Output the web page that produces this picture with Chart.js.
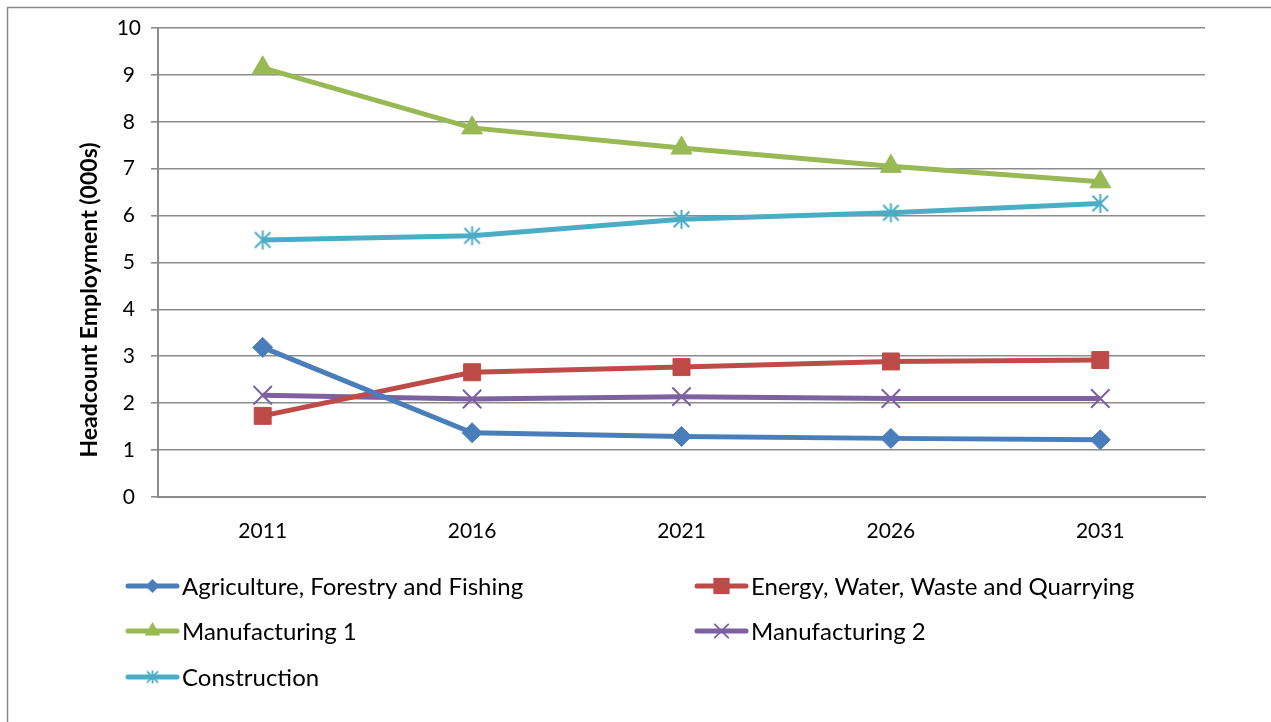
<!DOCTYPE html>
<html>
<head>
<meta charset="utf-8">
<script src="https://cdn.jsdelivr.net/npm/chart.js@4/dist/chart.umd.min.js"></script>
<style>
  html, body { margin: 0; padding: 0; background: #ffffff; }
  #wrap { position: relative; width: 1271px; height: 722px; }
</style>
</head>
<body>
<div id="wrap"><canvas id="chart" width="1271" height="722"></canvas></div>
<script>
// Headcount employment by sector (thousands)
const years = ['2011', '2016', '2021', '2026', '2031'];
const agriculture = [3.19, 1.37, 1.29, 1.25, 1.22];
const energy = [1.73, 2.66, 2.77, 2.89, 2.92];
const manufacturing1 = [9.15, 7.87, 7.44, 7.05, 6.72];
const manufacturing2 = [2.17, 2.09, 2.14, 2.10, 2.10];
const construction = [5.48, 5.57, 5.92, 6.06, 6.26];
const seriesNames = [
  'Agriculture, Forestry and Fishing',
  'Energy, Water, Waste and Quarrying',
  'Manufacturing 1',
  'Manufacturing 2',
  'Construction'
];
const yTicks = [0, 1, 2, 3, 4, 5, 6, 7, 8, 9, 10];

const FONT = "Lato, 'Open Sans', 'DejaVu Sans', sans-serif";
const GRID = '#8c8c8c';
const colors = ['#4a7ebb', '#be4b48', '#98b954', '#7d60a0', '#4bacc6'];

// asterisk marker: vertical bar plus diagonal cross
function asterisk(size, color, lw) {
  const c = document.createElement('canvas');
  c.width = size; c.height = size;
  const g = c.getContext('2d');
  g.strokeStyle = color; g.lineWidth = lw; g.lineCap = 'butt';
  const m = size / 2, p = 1, d = size * 0.37;
  g.beginPath();
  g.moveTo(m, p); g.lineTo(m, size - p);
  g.moveTo(m - d, m - d); g.lineTo(m + d, m + d);
  g.moveTo(m + d, m - d); g.lineTo(m - d, m + d);
  g.stroke();
  return c;
}
const starBig = asterisk(21, colors[4], 2);
const starSmall = asterisk(15, colors[4], 1.7);

const styles = [
  { pointStyle: 'rectRot', pointRadius: 10, legendRadius: 7 },
  { pointStyle: 'rect', pointRadius: 12, legendRadius: 11.5 },
  { pointStyle: 'triangle', pointRadius: 12, legendRadius: 9 },
  { pointStyle: 'crossRot', pointRadius: 13, legendRadius: 9.5 },
  { pointStyle: starBig, pointRadius: 10, legendRadius: 7 }
];

const values = [agriculture, energy, manufacturing1, manufacturing2, construction];
const datasets = values.map((v, i) => ({
  label: seriesNames[i],
  data: v,
  borderColor: colors[i],
  backgroundColor: colors[i],
  borderWidth: 5,
  pointStyle: styles[i].pointStyle,
  pointRadius: styles[i].pointRadius,
  pointHoverRadius: styles[i].pointRadius,
  pointBackgroundColor: colors[i],
  pointBorderColor: colors[i],
  pointBorderWidth: i === 3 ? 2 : 1,
  tension: 0,
  fill: false
}));

function drawMarker(ctx, style, x, y, r, color) {
  ctx.save();
  ctx.fillStyle = color; ctx.strokeStyle = color;
  ctx.beginPath();
  if (style === 'rectRot') {
    ctx.moveTo(x, y - r); ctx.lineTo(x + r, y); ctx.lineTo(x, y + r); ctx.lineTo(x - r, y);
    ctx.closePath(); ctx.fill();
  } else if (style === 'rect') {
    const s = r * Math.SQRT1_2;
    ctx.rect(x - s, y - s, 2 * s, 2 * s); ctx.fill();
  } else if (style === 'triangle') {
    const w = r * Math.sqrt(3) / 2;
    ctx.moveTo(x, y - r); ctx.lineTo(x + w, y + r / 2); ctx.lineTo(x - w, y + r / 2);
    ctx.closePath(); ctx.fill();
  } else if (style === 'crossRot') {
    const d = r * Math.SQRT1_2;
    ctx.lineWidth = 1.8;
    ctx.moveTo(x - d, y - d); ctx.lineTo(x + d, y + d);
    ctx.moveTo(x + d, y - d); ctx.lineTo(x - d, y + d);
    ctx.stroke();
  } else {
    ctx.drawImage(starSmall, x - starSmall.width / 2, y - starSmall.height / 2);
  }
  ctx.restore();
}

// frame, vertical axis title and the two-column legend
const decor = {
  id: 'decor',
  beforeDraw(chart) {
    const ctx = chart.ctx;
    ctx.save();
    ctx.fillStyle = '#ffffff';
    ctx.fillRect(0, 0, chart.width, chart.height);
    ctx.strokeStyle = '#8a8a8a';
    ctx.lineWidth = 1.5;
    ctx.strokeRect(7.5, 7.5, 1400, 900);
    ctx.restore();
  },
  afterDraw(chart) {
    const ctx = chart.ctx;
    ctx.save();
    ctx.translate(90, 300);
    ctx.rotate(-Math.PI / 2);
    ctx.fillStyle = '#000000';
    ctx.font = "bold 23px " + FONT;
    ctx.textAlign = 'center';
    ctx.textBaseline = 'middle';
    ctx.fillText('Headcount Employment (000s)', 0, 0);
    ctx.restore();

    const slots = [
      { x: 128, y: 586 }, { x: 697, y: 586 },
      { x: 128, y: 631 }, { x: 697, y: 631 },
      { x: 128, y: 677 }
    ];
    ctx.save();
    ctx.font = "24px " + FONT;
    ctx.textBaseline = 'middle';
    ctx.textAlign = 'left';
    slots.forEach((s, i) => {
      ctx.strokeStyle = colors[i];
      ctx.lineWidth = 5;
      ctx.lineCap = 'round';
      ctx.beginPath();
      ctx.moveTo(s.x, s.y); ctx.lineTo(s.x + 49, s.y);
      ctx.stroke();
      drawMarker(ctx, typeof styles[i].pointStyle === 'string' ? styles[i].pointStyle : 'star',
        s.x + 24.5, s.y, styles[i].legendRadius, colors[i]);
      ctx.fillStyle = '#000000';
      ctx.fillText(seriesNames[i], s.x + 54, s.y + 1);
    });
    ctx.restore();
  }
};

new Chart(document.getElementById('chart'), {
  type: 'line',
  data: { labels: years, datasets: datasets },
  plugins: [decor],
  options: {
    responsive: false,
    animation: false,
    events: [],
    layout: { padding: { left: 74, right: 66, top: 28, bottom: 0 } },
    plugins: {
      legend: { display: false },
      tooltip: { enabled: false }
    },
    scales: {
      x: {
        offset: true,
        grid: { display: false, drawTicks: false },
        border: { display: true, color: GRID, width: 2 },
        ticks: {
          color: '#000000',
          font: { family: FONT, size: 21 },
          padding: 22,
          maxRotation: 0
        },
        afterFit(scale) { scale.height = 225; }
      },
      y: {
        min: 0,
        max: 10,
        afterBuildTicks(scale) { scale.ticks = yTicks.map(v => ({ value: v })); },
        grid: { color: GRID, lineWidth: 1.6, tickLength: 7, drawTicks: true },
        border: { display: true, color: GRID, width: 2 },
        ticks: {
          color: '#000000',
          font: { family: FONT, size: 21 },
          padding: 10,
          crossAlign: 'center'
        },
        afterFit(scale) { scale.width = 84; }
      }
    }
  }
});
</script>
</body>
</html>
